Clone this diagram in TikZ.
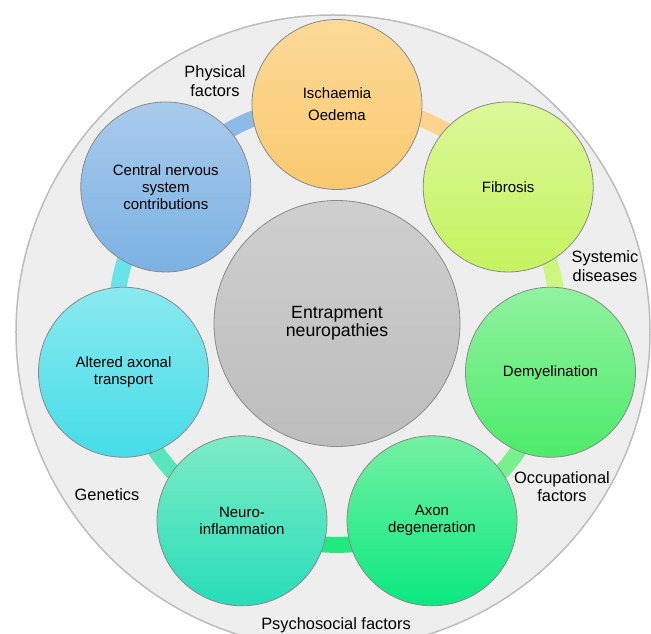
\documentclass[tikz,border=0pt]{standalone}
\usepackage{fontspec}
\setmainfont{Liberation Sans}
\usepackage{xcolor}
\usepackage{tikz}
\usetikzlibrary{backgrounds}

\definecolor{ringback}{HTML}{EEEEEE}
\definecolor{ringedge}{HTML}{BDBDBD}
\definecolor{rim}{HTML}{8A8A8A}
\definecolor{linkblue}{HTML}{8BBBE6}
\definecolor{linkorange}{HTML}{FDD38F}
\definecolor{linklime}{HTML}{CCF67E}
\definecolor{linkgreen}{HTML}{78F08C}
\definecolor{linkdeep}{HTML}{22E880}
\definecolor{linkmint}{HTML}{58E7BC}
\definecolor{linkcyan}{HTML}{69E3EA}

\begin{document}
\begin{tikzpicture}[x=1pt,y=1pt,
	bubble/.style={circle,draw=rim,line width=0.8pt,minimum size=170pt,inner sep=0pt,
		align=center,font=\fontsize{15}{17}\selectfont},
	factor/.style={align=center,font=\fontsize{16.4}{18.3}\selectfont},
	link/.style={line width=16pt}]
		\useasboundingbox (-337,-310.5) rectangle (314,323.5);
		\clip (-337,-310.5) rectangle (314,323.5);
		%
		\node[bubble,minimum size=246pt,top color=black!19,bottom color=black!26,
			font=\fontsize{17.7}{17.6}\selectfont] (ctr) at (0,0) {Entrapment\\neuropathies};
		\node[bubble,top color={rgb,255:red,253;green,218;blue,152},bottom color={rgb,255:red,249;green,201;blue,111}]
			(isch) at (90:219) {Ischaemia\\[5pt]Oedema};
		\node[bubble,top color={rgb,255:red,219;green,248;blue,152},bottom color={rgb,255:red,197;green,243;blue,95}]
			(fib) at (38.57:219) {Fibrosis};
		\node[bubble,top color={rgb,255:red,144;green,242;blue,158},bottom color={rgb,255:red,77;green,235;blue,107}]
			(demy) at (-12.86:219) {Demyelination};
		\node[bubble,top color={rgb,255:red,116;green,241;blue,162},bottom color={rgb,255:red,10;green,232;blue,128}]
			(axon) at (-64.29:219) {Axon\\degeneration};
		\node[bubble,top color={rgb,255:red,125;green,235;blue,198},bottom color={rgb,255:red,39;green,221;blue,185}]
			(neuro) at (-115.71:219) {Neuro-\\inflammation};
		\node[bubble,top color={rgb,255:red,138;green,233;blue,238},bottom color={rgb,255:red,69;green,220;blue,232}]
			(alt) at (-167.14:219) {Altered axonal\\transport};
		\node[bubble,top color={rgb,255:red,169;green,203;blue,235},bottom color={rgb,255:red,123;green,177;blue,227}]
			(cns) at (141.43:219) {Central nervous\\system\\contributions};
		%
		\begin{scope}[on background layer]
		\draw[fill=ringback,draw=ringedge,line width=1.5pt] (-4,-8.5) circle [radius=317];
		\path[link]
		(cns.center) edge[bend left=25.7,draw=linkblue] (isch.center)
		(isch.center) edge[bend left=25.7,draw=linkorange] (fib.center)
		(fib.center) edge[bend left=25.7,draw=linklime] (demy.center)
		(demy.center) edge[bend left=25.7,draw=linkgreen] (axon.center)
		(axon.center) edge[bend left=25.7,draw=linkdeep] (neuro.center)
		(neuro.center) edge[bend left=25.7,draw=linkmint] (alt.center)
		(alt.center) edge[bend left=25.7,draw=linkcyan] (cns.center);
		\end{scope}
		%
		\node[factor] (phys) at (-122,242.5) {Physical\\factors};
		\node[factor] (syst) at (268,57.5) {Systemic\\diseases};
		\node[factor] (occu) at (225,-163) {Occupational\\factors};
		\node[factor] (gene) at (-230,-171.5) {Genetics};
		\node[factor] (psyc) at (-1,-301.5) {Psychosocial factors};
		\end{tikzpicture}
\end{document}
